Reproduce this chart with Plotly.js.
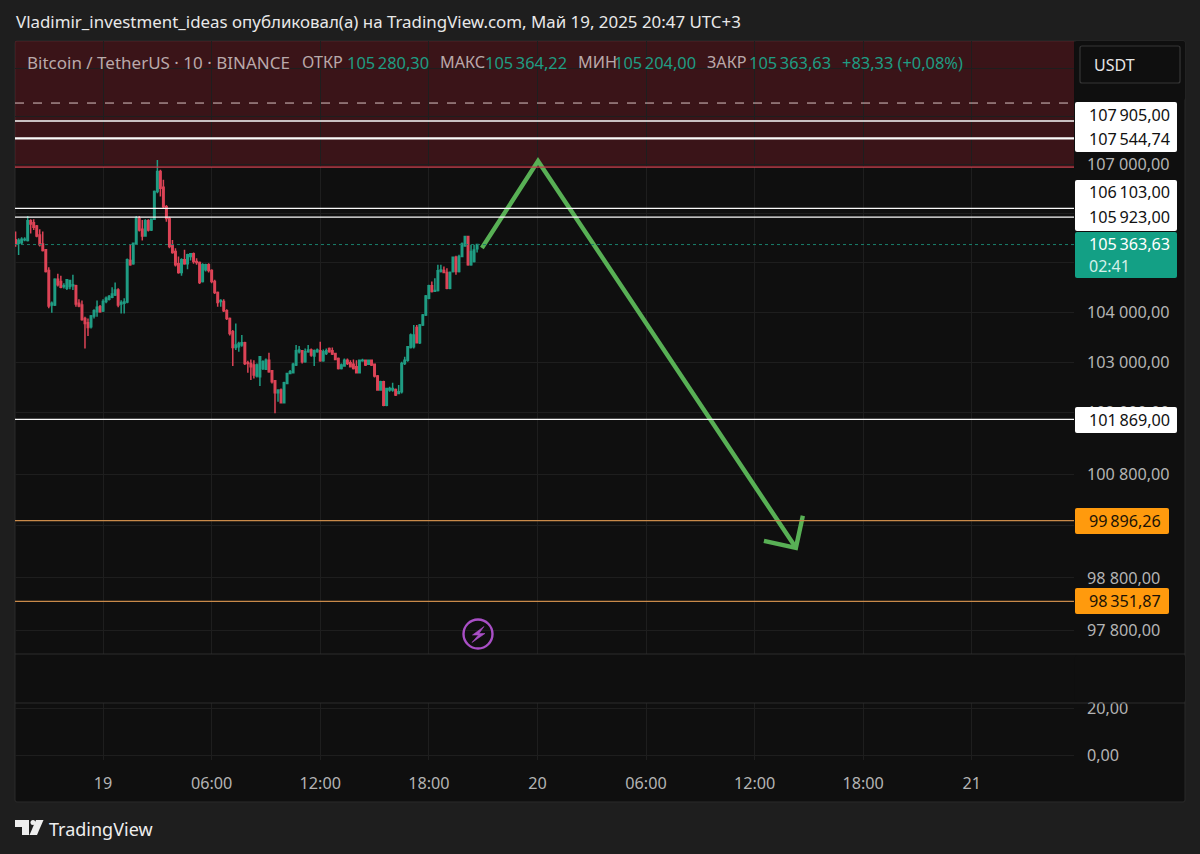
<!DOCTYPE html>
<html><head><meta charset="utf-8">
<script src="https://cdn.plot.ly/plotly-3.0.1.min.js"></script>
<style>html,body{margin:0;padding:0;background:#1e1e1e}#c{width:1200px;height:854px}</style>
</head><body><div id="c"></div>
<script>
const opens=[105460,105390,105400,105460,105445,105850,105809,105742,105560,105377,105256,104837,104142,104142,104662,104615,104513,104480,104513,104527,104527,104176,104142,103873,103787,103707,103920,104007,104108,104020,104210,104257,104297,104345,104446,104162,104176,104203,105040,104972,105391,105897,105674,105539,105850,105661,105877,106446,106858,106535,106137,105897,105337,105222,104972,104797,105053,104972,105121,105175,105020,105000,104615,104851,104952,104837,104615,104392,104210,104210,104027,103873,103606,103293,103307,103340,103387,102987,102974,102941,102723,102710,102875,102861,103040,102828,102630,102393,102446,102195,102578,102776,102789,102941,103207,103226,103007,103207,103240,103120,103207,103226,103027,103173,103273,103226,103173,103073,102875,102921,103040,102987,102960,102908,102789,103027,103040,102960,103040,102960,102723,102446,102611,102149,102446,102446,102459,102380,102413,102974,103040,103293,103306,103693,103387,103740,103940,104277,104527,104418,104432,104817,104837,104797,104479,104817,105107,104817,105120,105336,105526,104952,105019,105280.30];
const highs=[105630,105490,105510,105510,105945,105880,105877,105762,105674,105627,105269,104905,104210,104682,104770,104729,104581,104662,104648,104750,104547,104257,104230,103907,103873,103940,104054,104230,104142,104257,104311,104345,104500,104594,104480,104237,104277,105080,105377,105404,105945,105945,105863,105877,105877,105897,106467,107099,106893,106687,106171,105931,105458,105290,105121,105087,105256,105175,105188,105202,105087,105020,104986,104972,104986,104864,104648,104412,104257,104257,104054,103893,103640,103773,103407,103540,103407,103027,103053,103040,102974,103120,103040,103073,103186,102842,102644,102459,102479,102611,102789,102842,102987,103340,103320,103240,103273,103340,103273,103253,103273,103407,103253,103273,103293,103293,103186,103093,102974,103073,103073,103040,103053,103040,103053,103067,103053,103053,103053,102974,102743,102630,102630,102479,102512,102591,102479,102545,103007,103107,103320,103573,103740,103740,103760,103960,104344,104547,104614,104682,104952,104952,104918,104884,104817,105120,105134,105154,105404,105539,105539,105357,105357,105364.22];
const lows=[105320,105150,105360,105430,105425,105590,105661,105512,105323,105222,104797,104075,103987,104122,104513,104480,104473,104446,104459,104446,104108,104095,103827,103273,103520,103673,103873,103907,103987,104000,104176,104230,104277,104325,104095,103973,103973,104176,104932,104952,105357,105627,105445,105526,105627,105640,105863,106412,106343,106103,105830,105290,105175,104918,104770,104729,104952,104864,105040,104972,104952,104567,104594,104817,104797,104581,104365,104108,104108,104000,103840,103533,102921,103240,103207,103307,102941,102789,102644,102677,102696,102525,102842,102842,102789,102578,101987,102215,102182,102182,102564,102762,102776,102921,103173,102974,102987,103187,103107,102921,103187,103007,103007,103140,103187,103140,103040,102855,102855,102908,102941,102894,102855,102776,102776,103007,102921,102941,102921,102696,102432,102432,102129,102129,102413,102413,102327,102366,102380,102941,103007,103273,103273,103373,103360,103720,103920,104256,104392,104405,104412,104797,104783,104459,104459,104797,104749,104797,105107,105323,104932,104932,104999,105204];
const closes=[105380,105450,105470,105470,105850,105780,105715,105539,105357,105242,104817,104122,104176,104662,104547,104500,104527,104648,104635,104547,104162,104122,103853,103773,103693,103920,104027,104095,104007,104210,104277,104311,104365,104446,104142,104190,104203,105053,104952,105391,105897,105661,105539,105850,105661,105877,106446,106858,106515,106137,105897,105323,105202,104952,104797,105053,104972,105154,105175,105020,105000,104594,104952,104952,104837,104615,104392,104190,104230,104027,103873,103573,103293,103340,103373,103387,102974,102974,102908,102743,102941,103107,103007,103040,102809,102611,102393,102446,102195,102591,102776,102809,102960,103226,103240,103007,103207,103240,103140,103226,103240,103027,103207,103226,103207,103160,103053,102875,102941,103040,102974,102908,102875,102789,103040,103040,102941,103040,102941,102723,102446,102611,102149,102479,102479,102479,102347,102413,102974,103040,103306,103540,103540,103387,103740,103940,104324,104527,104412,104432,104830,104850,104797,104479,104797,105107,104817,105120,105377,105526,104952,105222,105255,105363.63];

const firstCandle='2025-05-18T19:10:00';
const tickDates=['2025-05-19','2025-05-19T06:00','2025-05-19T12:00','2025-05-19T18:00','2025-05-20','2025-05-20T06:00','2025-05-20T12:00','2025-05-20T18:00','2025-05-21'];
const tickLabels=['19','06:00','12:00','18:00','20','06:00','12:00','18:00','21'];
const xRange=['2025-05-18T19:08:00','2025-05-21T05:39:00'];
const yRange=[97360,109584];
const priceTicks=[109000,108000,107000,106000,105000,104000,103000,102000,100800,99800,98800,97800];
const priceLabels=['','','107 000,00','','','104 000,00','103 000,00','102 000,00','100 800,00','','98 800,00','97 800,00'];
const lowerTicks=[20,0];
const lowerLabels=['20,00','0,00'];
const arrowX=['2025-05-19T20:56:00','2025-05-20T00:02:00','2025-05-20T14:17:00'];
const arrowY=[105293,107075,99375];
const headX=['2025-05-20T12:31:00','2025-05-20T14:17:00','2025-05-20T14:40:00'];
const headY=[99510,99375,99993];
const whiteLevels=[107905,107544.74,106103,105923,101869];
const whiteWidths=[1.3,2.2,1.3,1.3,1.3];
const orangeLevels=[99896.26,98351.87];
const dashedLevel=108280, zoneLow=106951, lastClose=105363.63;

const T='\u2009';
const whiteTags=[['107'+T+'905,00',114.5],['107'+T+'544,74',139],['106'+T+'103,00',192],['105'+T+'923,00',217],['101'+T+'869,00',420]];
const orangeTags=[['99'+T+'896,26',521],['98'+T+'351,87',601]];
const headerTitle=['Bitcoin / TetherUS · 10 · BINANCE',26];
const headerLabels=[['ОТКР',301],['МАКС',438.5],['МИН',576.5],['ЗАКР',706]];
const headerValues=[['105'+T+'280,30',346],['105'+T+'364,22',484],['105'+T+'204,00',613],['105'+T+'363,63',748],['+83,33 (+0,08%)',841]];

const FONT='"Noto Sans", sans-serif';
const M={l:15,r:126,t:41,b:94}, W=1200-M.l-M.r, H=854-M.t-M.b;
const px=X=>(X-M.l)/W, py=Y=>(854-M.b-Y)/H;
const pth=s=>s.replace(/(-?[\d.]+) (-?[\d.]+)/g,(m,a,b)=>px(+a).toFixed(5)+' '+py(+b).toFixed(5));
const rr=(a,b,c,d,r)=>pth(`M${a+r} ${b} L${c-r} ${b} Q${c} ${b} ${c} ${b+r} L${c} ${d-r} Q${c} ${d} ${c-r} ${d} L${a+r} ${d} Q${a} ${d} ${a} ${d-r} L${a} ${b+r} Q${a} ${b} ${a+r} ${b} Z`);
const box=(a,b,c,d,fill,layer,line)=>({type:'path',xref:'paper',yref:'paper',path:rr(a,b,c,d,2),fillcolor:fill,line:line||{width:0},layer:layer||'above'});
const level=(v,color,width,dash)=>({type:'line',xref:'paper',x0:0,x1:1,yref:'y',y0:v,y1:v,line:{color,width,dash:dash||'solid'},layer:'above'});
const txt=(s,X,Y,size,color,extra)=>Object.assign({xref:'paper',yref:'paper',x:px(X),y:py(Y),xanchor:'left',yanchor:'middle',text:s,showarrow:false,borderpad:0,font:{family:FONT,size,color}},extra||{});

const times=opens.map((_,i)=>new Date(Date.parse(firstCandle+'Z')+i*600000).toISOString().slice(0,19));

const traces=[
 {type:'candlestick',x:times,open:opens,high:highs,low:lows,close:closes,xaxis:'x',yaxis:'y',hoverinfo:'skip',whiskerwidth:0,
  increasing:{line:{color:'#1f9c83',width:1.5},fillcolor:'#1f9c83'},
  decreasing:{line:{color:'#dc4356',width:1.5},fillcolor:'#dc4356'}},
 {type:'scatter',mode:'lines',x:arrowX,y:arrowY,xaxis:'x',yaxis:'y',hoverinfo:'skip',line:{color:'#58b055',width:4.4,shape:'linear'}},
 {type:'scatter',mode:'lines',x:headX,y:headY,xaxis:'x',yaxis:'y',hoverinfo:'skip',line:{color:'#58b055',width:4.4}},
 {type:'scatter',mode:'lines',x:xRange,y:lowerTicks,xaxis:'x',yaxis:'y2',hoverinfo:'skip',opacity:0,line:{width:0}}
];

const shapes=[
 box(15,41,1185,802,'#0f0f0f','below',{color:'#2b2b2b',width:1}),
 {type:'rect',xref:'paper',x0:0,x1:1,yref:'y',y0:zoneLow,y1:yRange[1],fillcolor:'rgba(130,30,40,0.38)',line:{width:0},layer:'below'},
 level(dashedLevel,'#d8c4c4',1,'dash'),
 level(zoneLow,'#c8404e',1.2),
 ...whiteLevels.map((v,i)=>level(v,'#fafafa',whiteWidths[i])),
 ...orangeLevels.map(v=>level(v,'#c98a4a',1.2)),
 level(lastClose,'#1a7f6c',1,'dot'),
 box(1075,655,1185,702,'#0f0f0f'),
 box(1075,41,1185,100,'#0f0f0f'),
 box(1080,46,1180,83,'#0f0f0f','above',{color:'#363636',width:1.2}),
 box(1075,102,1177,152,'#ffffff'),
 box(1075,180,1177,231,'#ffffff'),
 box(1075,407,1177,433,'#ffffff'),
 box(1075,232,1177,278,'#13a085'),
 box(1075,508,1169,534,'#ff9a0d'),
 box(1075,588,1169,614,'#ff9a0d'),
 {type:'line',xref:'paper',yref:'paper',x0:px(15),x1:px(1185),y0:py(654),y1:py(654),line:{color:'#2c2c2c',width:1.2},layer:'above'},
 {type:'line',xref:'paper',yref:'paper',x0:px(15),x1:px(1185),y0:py(703),y1:py(703),line:{color:'#2c2c2c',width:1.2},layer:'above'},
 {type:'circle',xref:'paper',yref:'paper',x0:px(463.5),x1:px(492.5),y0:py(619.5),y1:py(648.5),line:{color:'#a94fc6',width:2.4},fillcolor:'rgba(0,0,0,0)',layer:'above'},
 {type:'path',xref:'paper',yref:'paper',path:pth('M484 626.5 L472.5 635 L478.5 635 L472 642.5 L485 633.5 L479 633.5 Z'),fillcolor:'#a94fc6',line:{color:'#a94fc6',width:0.6},layer:'above'},
 {type:'path',xref:'paper',yref:'paper',path:pth('M15 820 L29 820 L29 835 L22 835 L22 827 L15 827 Z'),fillcolor:'#eeeeee',line:{width:0},layer:'above'},
 {type:'circle',xref:'paper',yref:'paper',x0:px(30.5),x1:px(35.5),y0:py(820),y1:py(825),fillcolor:'#eeeeee',line:{width:0},layer:'above'},
 {type:'path',xref:'paper',yref:'paper',path:pth('M36 820 L43.5 820 L37 835 L29.5 835 Z'),fillcolor:'#eeeeee',line:{width:0},layer:'above'}
];

const annotations=[
 txt('Vladimir_investment_ideas опубликовал(а) на TradingView.com, Май 19, 2025 20:47 UTC+3',14.5,22,16.9,'#e8e8e8'),
 txt(headerTitle[0],headerTitle[1],62,17,'#b9a9aa'),
 ...headerLabels.map(([s,X])=>txt(s,X,62,16.2,'#b9a9aa')),
 ...headerValues.map(([s,X])=>txt(s,X,62,16.4,'#1f9c83')),
 txt('USDT',1093,64.5,16,'#e6e6e6'),
 ...whiteTags.map(([s,Y])=>txt(s,1088,Y,16.2,'#111111')),
 ...orangeTags.map(([s,Y])=>txt(s,1088,Y,16.2,'#1a1206')),
 txt('105'+T+'363,63',1088,244,16.2,'#ffffff'),
 txt('02:41',1088,266,16,'#d4f0ea'),
 txt('TradingView',48,829,18,'#eeeeee')
];

const grid='#1e1e1e';
const layout={
 width:1200,height:854,margin:M,paper_bgcolor:'#1e1e1e',plot_bgcolor:'#0f0f0f',showlegend:false,hovermode:false,dragmode:false,
 font:{family:FONT,color:'#b4b4b4'},
 xaxis:{type:'date',range:xRange,anchor:'y2',rangeslider:{visible:false},tickmode:'array',tickvals:tickDates,ticktext:tickLabels,ticks:'',
   ticklabelstandoff:12,tickfont:{family:FONT,size:16.2,color:'#b4b4b4'},showgrid:true,gridcolor:grid,gridwidth:1,zeroline:false,showline:false},
 yaxis:{type:'log',range:yRange.map(Math.log10),domain:[(854-M.b-654)/H,1],side:'right',anchor:'x',tickmode:'array',tickvals:priceTicks,ticktext:priceLabels,ticks:'',
   ticklabelstandoff:12,tickfont:{family:FONT,size:16.2,color:'#b4b4b4'},showgrid:true,gridcolor:grid,gridwidth:1,zeroline:false,showline:false},
 yaxis2:{type:'linear',range:[-2.13,22.13],domain:[0,(854-M.b-703)/H],side:'right',anchor:'x',tickmode:'array',tickvals:lowerTicks,ticktext:lowerLabels,ticks:'',
   ticklabelstandoff:12,tickfont:{family:FONT,size:16.2,color:'#b4b4b4'},showgrid:true,gridcolor:grid,gridwidth:1,zeroline:false,showline:false},
 shapes,annotations
};
Plotly.newPlot('c',traces,layout,{displayModeBar:false,staticPlot:true});
</script></body></html>
